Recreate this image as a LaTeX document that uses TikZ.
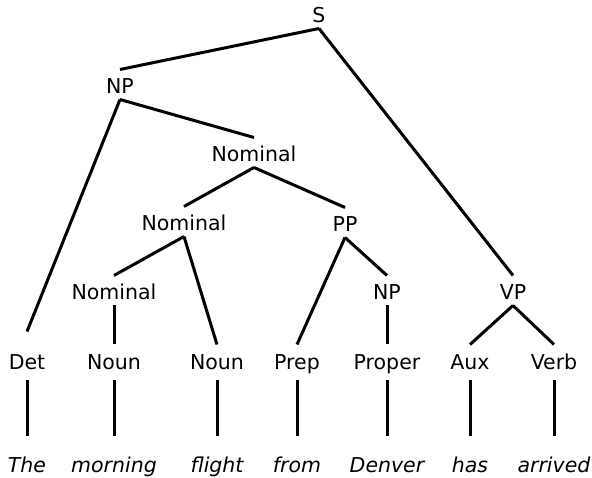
\documentclass[tikz,border=0pt]{standalone}
\usepackage{fontspec}
\setmainfont{DejaVu Sans}

\tikzset{
  phrase/.style={anchor=base, inner sep=0pt, text height=23pt, text depth=4pt},
  tag/.style={anchor=base, inner sep=0pt, text height=24pt, text depth=9pt},
  word/.style={anchor=base, inner sep=0pt, text height=35pt, text depth=0pt, font=\itshape}
}

\begin{document}
\begin{tikzpicture}[x=1pt, y=-1pt, line width=3pt]
\fontsize{20.5}{24}\selectfont
\useasboundingbox (0,0) rectangle (592,478);

% phrase nodes
\node[phrase] (s) at (319,23) {S};
\node[phrase] (np) at (120,94) {NP};
\node[phrase] (nomA) at (254,162) {Nominal};
\node[phrase] (nomB) at (184,231) {Nominal};
\node[phrase] (pp) at (345,232) {PP};
\node[phrase] (nomC) at (114,300) {Nominal};
\node[phrase] (npB) at (387,300) {NP};
\node[phrase] (vp) at (513,300) {VP};

% part of speech and words
\foreach \name/\x/\tag/\word in {det/27/Det/The, nounA/114/Noun/morning,
  nounB/217/Noun/flight, prep/297/Prep/from, proper/387/Proper/Denver,
  aux/470/Aux/has, verb/554/Verb/arrived}
{
	\node[tag] (\name) at (\x,370) {\tag};
	\node[word] (w\name) at (\x,472) {\word};
	\draw (\name.south) -- (w\name.north);
}

% branches
\draw (s.south) -- (np.north);
\draw (s.south) -- (vp.north);
\draw (np.south) -- ([yshift=13pt]det.north);
\draw (np.south) -- (nomA.north);
\draw (nomA.south) -- (nomB.north);
\draw (nomA.south) -- (pp.north);
\draw (nomB.south) -- (nomC.north);
\draw (nomB.south) -- (nounB.north);
\draw (nomC.south) -- (nounA.north);
\draw (pp.south) -- (prep.north);
\draw (pp.south) -- (npB.north);
\draw (npB.south) -- (proper.north);
\draw (vp.south) -- (aux.north);
\draw (vp.south) -- (verb.north);
\end{tikzpicture}
\end{document}
